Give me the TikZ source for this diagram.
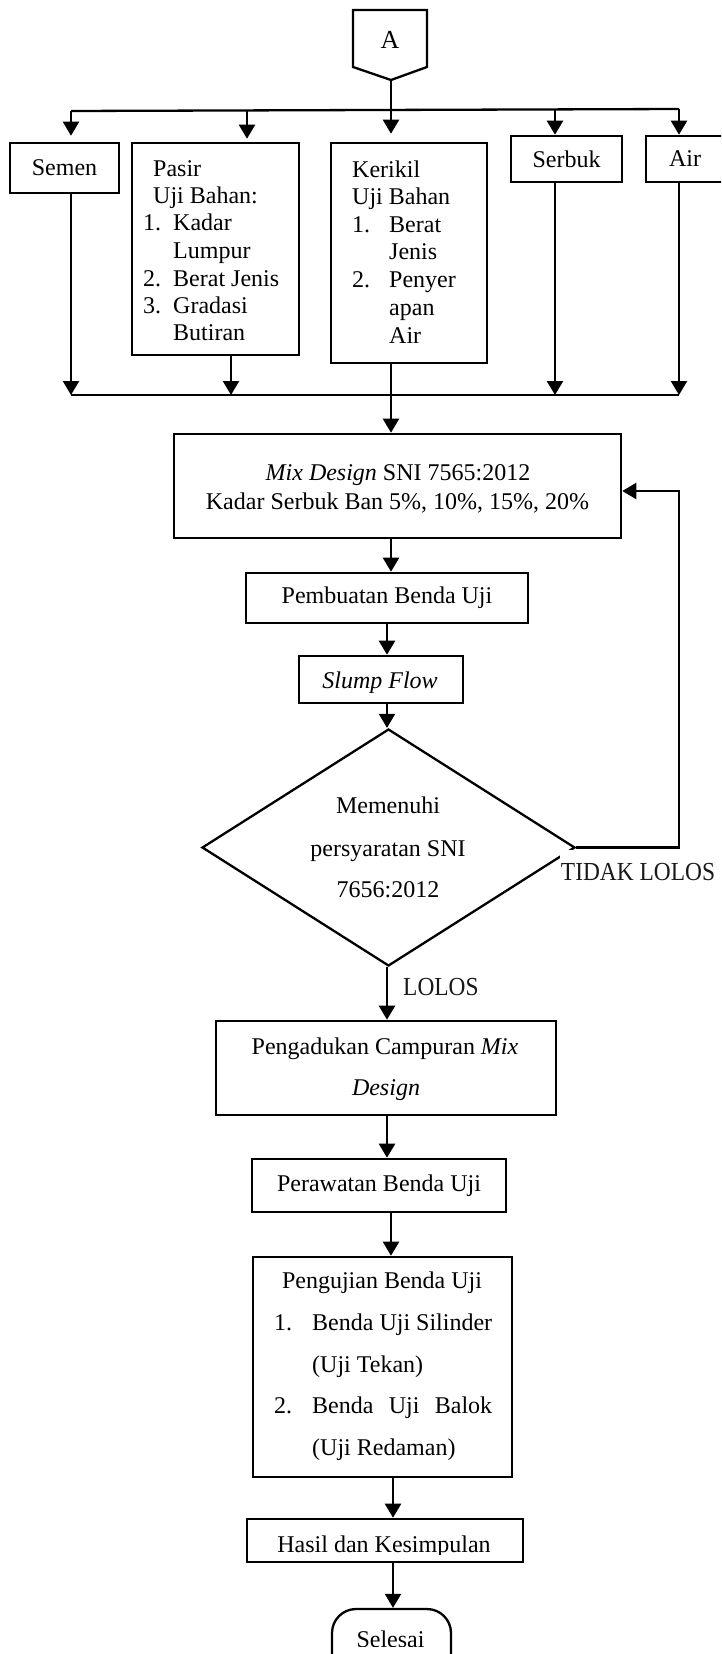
\documentclass[tikz,border=0pt]{standalone}
\usepackage{fontspec}
\setmainfont{Liberation Serif}
\usetikzlibrary{arrows.meta,shapes.geometric}
\newcommand\myfs{\fontsize{24}{28}\selectfont}
\newcommand\lblfs{\fontsize{26}{30}\selectfont}
\begin{document}
\begin{tikzpicture}[x=1pt,y=-1pt,
  box/.style={draw,line width=2.6pt,rectangle,inner sep=0pt,font=\myfs},
  ln/.style={line width=2.3pt},
  arr/.style={ln,-{Triangle[length=14pt,width=16pt]}},
  txt/.style={inner sep=0pt,anchor=base west,font=\myfs},
  ctxt/.style={inner sep=0pt,anchor=base,font=\myfs},
  lbl/.style={font=\lblfs,text=black!90}
]
\useasboundingbox (0,0) rectangle (721,1654);
\clip (0,0) rectangle (721,1654);
\fill[white] (0,0) rectangle (721,1654);

% A connector
\draw[ln] (353,10) -- (427,10) -- (427,67) -- (391,80) -- (353,67) -- cycle;
\node[inner sep=0pt,font=\fontsize{26}{30}\selectfont] (A) at (390,40) {A};
\coordinate (Atip) at (391,80);

% material boxes
\node[box,minimum width=109pt,minimum height=50pt] (semen) at (64.5,168) {Semen};
\node[box,minimum width=167pt,minimum height=212pt] (pasir) at (215.5,249) {};
\node[box,minimum width=156pt,minimum height=220pt] (kerikil) at (409,253) {};
\node[box,minimum width=111pt,minimum height=46pt] (serbuk) at (566.5,159) {Serbuk};
\node[box,minimum width=78pt,minimum height=46pt] (air) at (685,159) {Air};

\node[txt] (p1) at (153,176) {Pasir};
\node[txt] (p2) at (153,203) {Uji Bahan:};
\node[txt] (p3n) at (143,230) {1.};
\node[txt] (p3) at (173,230) {Kadar};
\node[txt] (p4) at (173,258) {Lumpur};
\node[txt] (p5n) at (143,286) {2.};
\node[txt] (p5) at (173,286) {Berat Jenis};
\node[txt] (p6n) at (143,313) {3.};
\node[txt] (p6) at (173,313) {Gradasi};
\node[txt] (p7) at (173,340) {Butiran};

\node[txt] (k1) at (352,177) {Kerikil};
\node[txt] (k2) at (352,204) {Uji Bahan};
\node[txt] (k3n) at (352,232) {1.};
\node[txt] (k3) at (389,232) {Berat};
\node[txt] (k4) at (389,259) {Jenis};
\node[txt] (k5n) at (352,287) {2.};
\node[txt] (k5) at (389,287) {Penyer};
\node[txt] (k6) at (389,315) {apan};
\node[txt] (k7) at (389,343) {Air};

% top bus
\coordinate (tl) at (71,111);
\coordinate (tr) at (679,109);
\coordinate (xp1) at (247,110);
\coordinate (xs) at (555,109);
\draw[ln] (tl) -- (tr);
\draw[arr,shorten >=6pt] (tl) -- (tl |- semen.north);
\draw[arr,shorten >=3pt] (xp1) -- (xp1 |- pasir.north);
\draw[arr,shorten >=8pt] (Atip) -- (Atip |- kerikil.north);
\draw[arr] (xs) -- (xs |- serbuk.north);
\draw[arr] (tr) -- (tr |- air.north);

% mix design
\node[box,minimum width=447pt,minimum height=104pt] (mix) at (397.5,486) {};
\node[ctxt] (mixa) at (398,480) {\textit{Mix Design} SNI 7565:2012};
\node[ctxt] (mixb) at (397.5,509) {Kadar Serbuk Ban 5\%, 10\%, 15\%, 20\%};

% bottom bus
\coordinate (bl) at (71,395);
\coordinate (br) at (679,395);
\coordinate (xp2) at (231,395);
\coordinate (xs2) at (555,395);
\coordinate (xk) at (391,395);
\draw[ln] (bl) -- (br);
\draw[arr] (bl |- semen.south) -- (bl);
\draw[arr] (xp2 |- pasir.south) -- (xp2);
\draw[arr] (xs2 |- serbuk.south) -- (xs2);
\draw[arr] (br |- air.south) -- (br);
\draw[arr] (xk |- kerikil.south) -- (xk |- mix.north);

% pembuatan
\node[box,minimum width=282pt,minimum height=50pt] (buat) at (387,598) {Pembuatan Benda Uji};
\draw[arr] (xk |- mix.south) -- (xk |- buat.north);

% slump flow
\coordinate (xd) at (387,0);
\node[box,minimum width=164pt,minimum height=47pt] (slump) at (381,679.5) {};
\begin{scope}
\clip (290,650) rectangle (470,692);
\node[ctxt] (slumpT) at (380,688) {\textit{Slump Flow}};
\end{scope}
\draw[arr] (xd |- buat.south) -- (xd |- slump.north);

% decision
\node[draw,diamond,ln,minimum width=373pt,minimum height=237pt,inner sep=0pt] (dia) at (388.5,847.5) {};
\node[ctxt] (d1) at (388,813) {Memenuhi};
\node[ctxt] (d2) at (388,856) {persyaratan SNI};
\node[ctxt] (d3) at (388,897) {7656:2012};
\draw[arr] (xd |- slump.south) -- (xd |- dia.north);

% feedback
\coordinate (fb) at (679,491);
\draw[arr] (dia.east) -| (fb) -- (fb -| mix.east);
\node[lbl,fill=white,inner sep=1pt,minimum height=44pt] (tidak) at (638,872) {\scalebox{0.9}[1]{TIDAK LOLOS}};

% pengadukan
\node[box,minimum width=340pt,minimum height=94pt] (aduk) at (386,1068) {};
\node[ctxt] (a1) at (385,1054) {Pengadukan Campuran \textit{Mix}};
\node[ctxt] (a2) at (386,1095) {\textit{Design}};
\draw[arr] (xd |- dia.south) -- (xd |- aduk.north);
\node[lbl,anchor=base west,inner sep=0pt] (lolos) at (403,995) {\scalebox{0.9}[1]{LOLOS}};

% perawatan
\node[box,minimum width=254pt,minimum height=53pt] (rawat) at (379,1185.5) {Perawatan Benda Uji};
\draw[arr] (xd |- aduk.south) -- (xd |- rawat.north);

% pengujian
\coordinate (xu) at (391,0);
\node[box,minimum width=259pt,minimum height=220pt] (uji) at (382.5,1367) {};
\node[ctxt] (u0) at (382,1288) {Pengujian Benda Uji};
\node[txt] (u1n) at (274,1330) {1.};
\node[txt] (u1) at (312,1330) {Benda Uji Silinder};
\node[txt] (u2) at (312,1372) {(Uji Tekan)};
\node[txt] (u3n) at (274,1413) {2.};
\node[txt] (u3) at (312,1413) {\makebox[180pt][s]{Benda Uji Balok}};
\node[txt] (u4) at (312,1455) {(Uji Redaman)};
\draw[arr] (xu |- rawat.south) -- (xu |- uji.north);

% hasil
\coordinate (xh) at (393,0);
\node[box,minimum width=276pt,minimum height=43pt] (hasil) at (385,1540.5) {};
\begin{scope}
\clip (240,1515) rectangle (530,1554);
\node[ctxt] (hasilT) at (384,1552) {Hasil dan Kesimpulan};
\end{scope}
\draw[arr] (xh |- uji.south) -- (xh |- hasil.north);

% selesai
\node[draw,ln,rectangle,rounded corners=24pt,minimum width=119pt,minimum height=70pt] (sel) at (391.5,1644) {};
\begin{scope}
\clip (320,1600) rectangle (460,1646);
\node[ctxt] (selT) at (390.5,1647) {Selesai};
\end{scope}
\draw[arr] (xh |- hasil.south) -- (xh |- sel.north);
\end{tikzpicture}
\end{document}
